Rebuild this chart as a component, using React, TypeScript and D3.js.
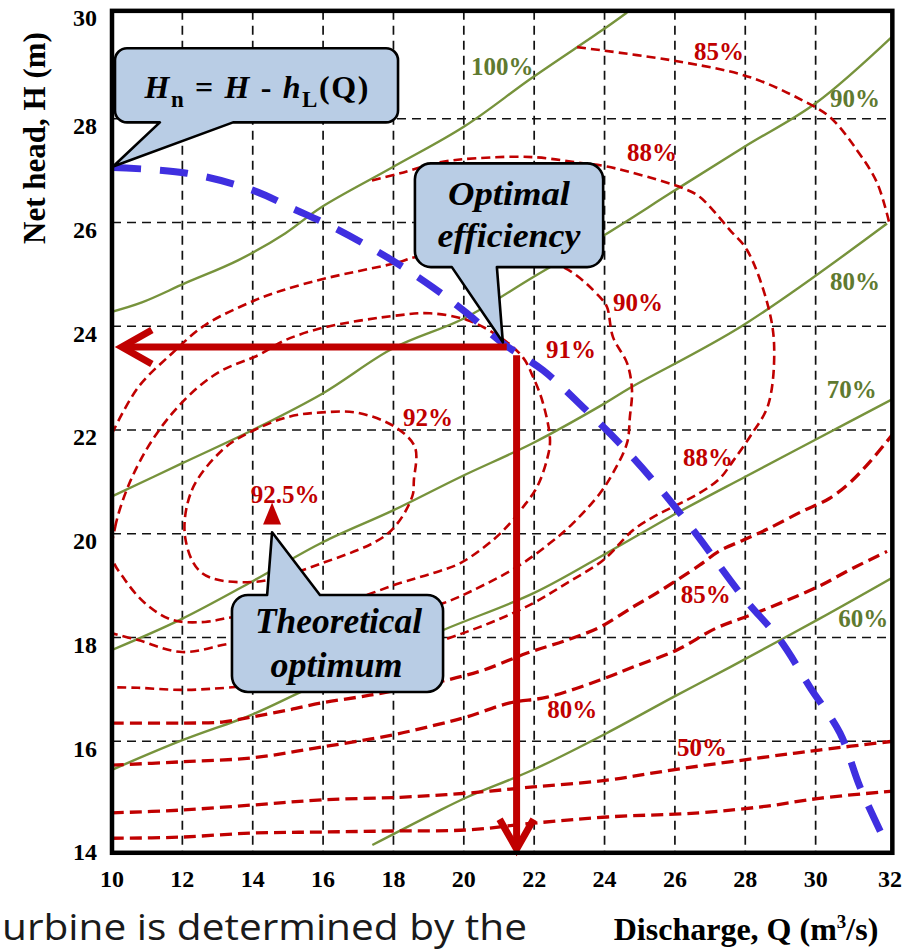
import React from 'react';
import * as d3 from 'd3';

const W = 912;
const H = 950;

// ---- axes ----
const xTicks = [10, 12, 14, 16, 18, 20, 22, 24, 26, 28, 30, 32];
const yTicks = [14, 16, 18, 20, 22, 24, 26, 28, 30];
const xGrid = [12, 14, 16, 18, 20, 22, 24, 26, 28, 30];
const yGrid = [16, 18, 20, 22, 24, 26, 28];

// ---- output (green, solid) lines: [Q, H] ----
const out100 = [[10, 24.28], [10.85, 24.46], [12.08, 24.83], [13.58, 25.27], [14.92, 25.79], [15.94, 26.29], [17.96, 27.06], [20.01, 27.85], [21.94, 28.79], [23.96, 29.72], [24.64, 30.05]];
const out90 = [[10, 20.72], [12, 21.36], [14, 22.0], [16, 22.71], [18, 23.58], [20, 24.15], [22, 24.96], [24, 25.76], [26, 26.62], [28, 27.47], [30, 28.3], [32.2, 29.6]];
const out80 = [[10, 17.76], [11.93, 18.34], [14.01, 19.09], [16, 19.84], [17.99, 20.45], [19.89, 21.09], [21.97, 21.75], [23.87, 22.46], [24.72, 22.81], [27.94, 24.02], [32.03, 25.98]];
const out70 = [[10, 15.45], [12, 16.02], [14, 16.52], [15.5, 16.99], [19.4, 18.14], [22, 18.86], [24.07, 19.63], [26.06, 20.4], [28, 21.1], [30.1, 21.85], [32.2, 22.6]];
const out60 = [[17.4, 14.0], [19.18, 14.62], [20.09, 14.92], [21.97, 15.45], [24.07, 16.16], [25.95, 16.85], [27.57, 17.43], [30.1, 18.36], [32.3, 19.2]];

// ---- efficiency (red, dashed) contours: [Q, H] ----
const eff92 = [[12.08, 19.93], [12.27, 20.84], [13.13, 21.61], [13.87, 21.94], [15.0, 22.25], [15.97, 22.34], [16.99, 22.33], [18.04, 22.06], [18.61, 21.67], [18.58, 21.03], [18.53, 20.71], [17.85, 20.01], [16.0, 19.44], [14.01, 19.07], [12.56, 19.24]];
const eff91 = [[10.0, 19.55], [10.09, 20.13], [10.45, 20.9], [11.02, 21.67], [11.71, 22.32], [12.44, 22.82], [13.13, 23.15], [14.15, 23.44], [14.92, 23.73], [16.05, 23.98], [18.13, 24.21], [19.04, 24.25], [20.09, 24.12], [21.03, 23.79], [21.68, 23.4], [21.97, 23.02], [22.25, 22.52], [22.45, 21.8], [22.36, 21.42], [22.08, 20.9], [21.68, 20.51], [21.31, 20.2], [20.83, 19.88], [19.89, 19.43], [19.12, 19.24], [18.19, 19.05], [16.77, 18.72], [15.06, 18.49], [13.41, 18.39], [12.64, 18.3], [11.71, 18.34], [10.94, 18.66], [10.37, 19.11]];
const eff90 = [[10.0, 21.93], [10.74, 22.82], [11.71, 23.48], [12.64, 24.02], [14.06, 24.5], [14.83, 24.69], [16.05, 24.92], [18.13, 25.23], [18.61, 25.33], [20.74, 25.43], [22.82, 25.14], [23.87, 24.56], [24.07, 24.37], [24.24, 23.79], [24.64, 23.29], [24.78, 22.77], [24.72, 22.25], [24.64, 21.75], [24.24, 21.17], [23.87, 20.78], [23.1, 20.2], [22.45, 19.82], [21.51, 19.36], [20.26, 18.91], [19.41, 18.66], [17.62, 18.34], [15.34, 18.05], [13.41, 17.89], [11.99, 17.72], [10.74, 17.95], [10.0, 18.08]];
const eff88 = [[17.39, 26.81], [18.19, 26.95], [19.32, 27.16], [20.38, 27.24], [21.97, 27.26], [23.39, 27.14], [24.07, 27.08], [26.23, 26.66], [26.71, 26.49], [27.57, 25.85], [28.05, 25.47], [28.62, 24.46], [28.82, 23.63], [28.65, 22.48], [28.16, 21.9], [27.65, 21.4], [27.28, 21.07], [26.69, 20.78], [25.38, 20.32], [24.81, 20.07], [23.96, 19.49], [22.93, 19.05], [21.97, 18.66], [20.74, 18.28], [19.41, 17.95], [17.62, 17.56], [15.34, 17.18], [13.41, 17.04], [11.99, 16.99], [10.74, 17.03], [10.0, 17.04]];
const eff85Top = [[23.22, 29.38], [26.23, 29.09], [28.14, 28.8], [29.64, 28.35], [30.41, 28.03], [31.18, 27.39], [31.75, 26.76], [32.09, 26.0]];
const eff85 = [[10.0, 16.35], [11.99, 16.35], [13.13, 16.37], [13.98, 16.47], [15.0, 16.6], [15.97, 16.74], [16.99, 16.85], [17.85, 16.95], [19.52, 17.18], [20.55, 17.37], [21.8, 17.7], [22.93, 17.95], [23.87, 18.2], [24.81, 18.59], [25.49, 18.86], [26.69, 19.39], [27.27, 19.67], [27.95, 19.88], [28.63, 20.09], [29.61, 20.43], [30.39, 20.68], [30.98, 20.99], [31.56, 21.4], [32.24, 21.96]];
const eff80 = [[10.0, 15.54], [11.88, 15.6], [13.98, 15.68], [15.97, 15.89], [17.96, 16.12], [19.18, 16.31], [20.09, 16.47], [21.31, 16.74], [22.37, 16.85], [23.87, 17.18], [24.81, 17.43], [26.06, 17.76], [27.17, 18.18], [28.14, 18.43], [29.13, 18.7], [30.1, 18.99], [31.07, 19.34], [32.03, 19.66]];
const eff50 = [[10.0, 14.62], [11.88, 14.67], [13.98, 14.77], [15.97, 14.87], [18.19, 14.92], [20.09, 15.0], [21.97, 15.12], [24.07, 15.25], [25.95, 15.45], [28.62, 15.7], [30.1, 15.83], [32.2, 16.0]];
const eff40 = [[10.0, 14.13], [11.88, 14.15], [13.98, 14.23], [15.97, 14.25], [17.96, 14.27], [20.09, 14.29], [21.97, 14.42], [24.07, 14.54], [26.69, 14.62], [28.62, 14.75], [30.1, 14.9], [32.2, 15.04]];

// ---- net head curve Hn = H - hL(Q) ----
const netHead = [[10.03, 27.06], [12.13, 26.95], [14.01, 26.62], [15.14, 26.27], [16.28, 25.91], [17.82, 25.33], [19.12, 24.75], [20.09, 24.25], [21.11, 23.67], [22.25, 23.15], [23.39, 22.44], [24.53, 21.67], [25.49, 20.94], [26.52, 20.07], [27.94, 18.78], [28.99, 17.95], [29.84, 17.04], [30.69, 16.16], [31.26, 15.12], [31.92, 14.15]];

// ---- points ----
const theoreticalOptimum = [14.55, 20.37];
const arrowH = [[21.22, 23.6], [10.28, 23.6]];
const arrowV = [[21.5, 23.44], [21.5, 13.92]];

// ---- labels ----
const outLabels = [
  { t: '100%', q: 21.09, h: 29.01 },
  { t: '90%', q: 31.12, h: 28.39 },
  { t: '80%', q: 31.12, h: 24.87 },
  { t: '70%', q: 31.03, h: 22.79 },
  { t: '60%', q: 31.35, h: 18.37 },
];
const effLabels = [
  { t: '85%', q: 27.25, h: 29.3 },
  { t: '88%', q: 25.35, h: 27.35 },
  { t: '90%', q: 24.95, h: 24.46 },
  { t: '91%', q: 23.05, h: 23.56 },
  { t: '92%', q: 18.98, h: 22.25 },
  { t: '92.5%', q: 14.92, h: 20.76 },
  { t: '88%', q: 26.94, h: 21.48 },
  { t: '85%', q: 26.88, h: 18.84 },
  { t: '80%', q: 23.08, h: 16.62 },
  { t: '50%', q: 26.77, h: 15.89 },
];

// callouts: box [q0, hTop, q1, hBottom], tail base q range, tip [q, h]
const calloutHn = { box: [10.085, 29.36, 18.13, 27.93], base: [11.36, 13.44], tip: [10.03, 27.08], side: 'bottom' };
const calloutOpt = { box: [18.61, 27.14, 23.96, 25.14], base: [19.66, 20.94], tip: [21.11, 23.69], side: 'bottom' };
const calloutTheo = { box: [13.41, 18.82, 19.41, 16.95], base: [14.41, 15.91], tip: [14.55, 20.03], side: 'top' };

const SERIF = "'Liberation Serif', 'Times New Roman', Times, serif";
const RED = '#c00000';
const GREEN = '#77933c';
const GREEN_TXT = '#5f7a30';
const BLUE = '#3f2fe0';
const FILL = '#b9cde5';

function calloutPath(x0: number, y0: number, x1: number, y1: number, r: number, side: string, b0: number, b1: number, tx: number, ty: number) {
  const p = d3.path();
  p.moveTo(x0 + r, y0);
  if (side === 'top') { p.lineTo(b0, y0); p.lineTo(tx, ty); p.lineTo(b1, y0); }
  p.lineTo(x1 - r, y0);
  p.arcTo(x1, y0, x1, y0 + r, r);
  p.lineTo(x1, y1 - r);
  p.arcTo(x1, y1, x1 - r, y1, r);
  if (side === 'bottom') { p.lineTo(b1, y1); p.lineTo(tx, ty); p.lineTo(b0, y1); }
  p.lineTo(x0 + r, y1);
  p.arcTo(x0, y1, x0, y1 - r, r);
  p.lineTo(x0, y0 + r);
  p.arcTo(x0, y0, x0 + r, y0, r);
  p.closePath();
  return p.toString();
}

export default function App() {
  const x = d3.scaleLinear().domain([10, 32]).range([112, 886]);
  const y = d3.scaleLinear().domain([14, 30]).range([845, 15]);
  const fL = x(10);
  const fR = x(32.18);
  const fT = y(30.08);
  const fB = y(13.85);

  const open = d3.line<number[]>().x((d) => x(d[0])).y((d) => y(d[1])).curve(d3.curveCatmullRom.alpha(0.5));
  const closed = d3.line<number[]>().x((d) => x(d[0])).y((d) => y(d[1])).curve(d3.curveCatmullRomClosed.alpha(0.5));

  const co = (c: any, r: number) =>
    calloutPath(x(c.box[0]), y(c.box[1]), x(c.box[2]), y(c.box[3]), r, c.side, x(c.base[0]), x(c.base[1]), x(c.tip[0]), y(c.tip[1]));

  const upperEff = [
    { d: closed(eff92 as any) },
    { d: closed(eff91 as any) },
    { d: open(eff90 as any) },
    { d: open(eff88 as any) },
    { d: open(eff85Top as any) },
  ];
  const lowerEff = [eff85, eff80, eff50, eff40];
  const outs = [out100, out90, out80, out70, out60];

  const ahx = x(arrowH[1][0]);
  const ahy = y(arrowH[1][1]);
  const avx = x(arrowV[1][0]);
  const avy = y(arrowV[1][1]);
  const tx = x(theoreticalOptimum[0]);
  const ty = y(theoreticalOptimum[1]);

  const boxCx = (c: any) => (x(c.box[0]) + x(c.box[2])) / 2;

  return (
    <div style={{ position: 'absolute', left: 0, top: 0, width: W, height: H, background: '#fff', overflow: 'hidden' }}>
      <svg width={W} height={H} viewBox={`0 0 ${W} ${H}`} style={{ display: 'block' }}>
        <defs>
          <clipPath id="plotClip">
            <rect x={fL} y={fT} width={fR - fL} height={fB - fT} />
          </clipPath>
        </defs>
        <rect x={0} y={0} width={W} height={H} fill="#fff" />

        {/* grid */}
        <g stroke="#111" strokeWidth={1.7} strokeDasharray="9,6">
          {xGrid.map((v) => (
            <line key={'gx' + v} x1={x(v)} x2={x(v)} y1={fT} y2={fB} />
          ))}
          {yGrid.map((v) => (
            <line key={'gy' + v} x1={fL} x2={fR} y1={y(v)} y2={y(v)} />
          ))}
        </g>

        <g clipPath="url(#plotClip)" fill="none">
          {outs.map((s, i) => (
            <path key={'o' + i} d={open(s as any) || ''} stroke={GREEN} strokeWidth={2.4} />
          ))}
          {upperEff.map((s, i) => (
            <path key={'u' + i} d={s.d || ''} stroke={RED} strokeWidth={2.6} strokeDasharray="9,5" />
          ))}
          {lowerEff.map((s, i) => (
            <path key={'l' + i} d={open(s as any) || ''} stroke={RED} strokeWidth={3.3} strokeDasharray="12,6" />
          ))}
          <path d={open(netHead as any) || ''} stroke={BLUE} strokeWidth={7} strokeDasharray="28,19" />
        </g>

        {/* arrows */}
        <g stroke={RED} strokeWidth={7} fill="none" strokeLinejoin="miter">
          <line x1={x(arrowH[0][0])} y1={y(arrowH[0][1])} x2={ahx + 2} y2={ahy} />
          <path d={`M${ahx + 30},${ahy - 17}L${ahx},${ahy}L${ahx + 30},${ahy + 17}`} />
          <line x1={x(arrowV[0][0])} y1={y(arrowV[0][1])} x2={avx} y2={avy - 2} />
          <path d={`M${avx - 17},${avy - 30}L${avx},${avy}L${avx + 17},${avy - 30}`} />
        </g>

        {/* theoretical optimum marker */}
        <path d={`M${tx},${ty - 12}L${tx + 9},${ty + 10}L${tx - 9},${ty + 10}Z`} fill={RED} />

        {/* callouts */}
        <g fill={FILL} stroke="#000" strokeWidth={2.6} strokeLinejoin="round">
          <path d={co(calloutHn, 12)} />
          <path d={co(calloutOpt, 16)} />
          <path d={co(calloutTheo, 16)} />
        </g>
        <g fontFamily={SERIF} fontWeight="bold" fill="#000" textAnchor="middle">
          <text x={boxCx(calloutHn)} y={y(calloutHn.box[1]) + 50} fontSize={32} textLength={224} lengthAdjust="spacing">
            <tspan fontStyle="italic">H</tspan>
            <tspan fontSize={23} dy={9}>n</tspan>
            <tspan dy={-9}> = </tspan>
            <tspan fontStyle="italic">H</tspan>
            <tspan> - </tspan>
            <tspan fontStyle="italic">h</tspan>
            <tspan fontSize={23} dy={9}>L</tspan>
            <tspan dy={-9}>(Q)</tspan>
          </text>
          <text x={boxCx(calloutOpt)} y={y(calloutOpt.box[1]) + 42} fontSize={34} fontStyle="italic" textLength={122} lengthAdjust="spacingAndGlyphs">Optimal</text>
          <text x={boxCx(calloutOpt)} y={y(calloutOpt.box[1]) + 84} fontSize={34} fontStyle="italic" textLength={143} lengthAdjust="spacingAndGlyphs">efficiency</text>
          <text x={boxCx(calloutTheo) + 1} y={y(calloutTheo.box[1]) + 38} fontSize={35} fontStyle="italic" textLength={167} lengthAdjust="spacingAndGlyphs">Theoretical</text>
          <text x={boxCx(calloutTheo) - 1} y={y(calloutTheo.box[1]) + 82} fontSize={35} fontStyle="italic" textLength={132} lengthAdjust="spacingAndGlyphs">optimum</text>
        </g>

        {/* contour labels */}
        <g fontFamily={SERIF} fontWeight="bold" fontSize={25} textAnchor="middle">
          {outLabels.map((l, i) => (
            <text key={'ol' + i} x={x(l.q)} y={y(l.h)} dy="0.35em" fill={GREEN_TXT}>{l.t}</text>
          ))}
          {effLabels.map((l, i) => (
            <text key={'el' + i} x={x(l.q)} y={y(l.h)} dy="0.35em" fill={RED}>{l.t}</text>
          ))}
        </g>

        {/* frame */}
        <rect x={fL} y={fT} width={fR - fL} height={fB - fT} fill="none" stroke="#000" strokeWidth={4.5} />

        {/* tick labels */}
        <g fontFamily={SERIF} fontWeight="bold" fontSize={24} fill="#000">
          {yTicks.map((v) => (
            <text key={'yt' + v} x={97} y={y(v) + (v === 30 ? 3 : 7)} dy="0.35em" textAnchor="end">{v}</text>
          ))}
          {xTicks.map((v) => (
            <text key={'xt' + v} x={x(v) + (v === 32 ? 4 : 0)} y={887} textAnchor="middle">{v}</text>
          ))}
        </g>

        {/* axis titles */}
        <text transform="translate(34,138) rotate(-90)" textAnchor="middle" dy="0.35em" fontFamily={SERIF} fontWeight="bold" fontSize={31}>Net head,  H (m)</text>
        <text x={746} y={940} textAnchor="middle" fontFamily={SERIF} fontWeight="bold" fontSize={32}>
          Discharge, Q (m<tspan fontSize={19} dy={-12}>3</tspan><tspan dy={12}>/s)</tspan>
        </text>

        {/* body text below the figure */}
        <text x={2} y={940} fontFamily="'Open Sans', 'Noto Sans', sans-serif" fontSize={37} fill="#1a1a1a" textLength={525} lengthAdjust="spacingAndGlyphs">urbine is determined by the</text>
      </svg>
    </div>
  );
}
